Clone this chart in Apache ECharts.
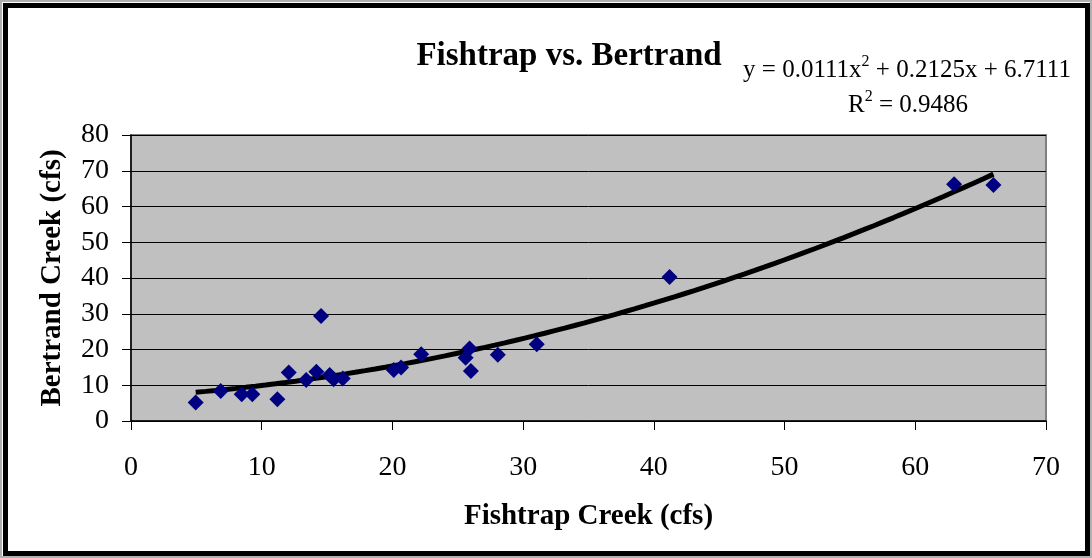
<!DOCTYPE html>
<html>
<head>
<meta charset="utf-8">
<script src="https://cdn.jsdelivr.net/npm/echarts@6/dist/echarts.min.js"></script>
<style>
  html, body { margin: 0; padding: 0; background: #fff; }
  #chart { width: 1092px; height: 558px; }
</style>
</head>
<body>
<div id="chart"></div>
<script>
// Daily flows: Fishtrap Creek (x) against Bertrand Creek (y), cfs
const fishtrap = [4.95, 6.86, 8.47, 9.28, 11.2, 12.07, 13.4, 14.18, 14.54, 15.2, 15.5, 16.2,
                  20.1, 20.66, 22.2, 25.6, 25.9, 26.0, 28.06, 31.04, 41.2, 62.97, 65.98];
const bertrand = [5.2, 8.4, 7.5, 7.5, 6.1, 13.6, 11.5, 13.8, 29.4, 12.9, 11.7, 11.9,
                  14.3, 15.0, 18.7, 17.7, 20.3, 14.0, 18.5, 21.5, 40.3, 66.2, 66.0];

// Polynomial trendline coefficients (y = a·x² + b·x + c) and R²
const trendA = 0.0111, trendB = 0.2125, trendC = 6.7111;
const rSquared = 0.9486;

const xTicks = [0, 10, 20, 30, 40, 50, 60, 70];
const yTicks = [0, 10, 20, 30, 40, 50, 60, 70, 80];

const points = fishtrap.map((x, i) => [x, bertrand[i]]);

// Trendline sampled across the observed x range
const xMin = Math.min(...fishtrap), xMax = Math.max(...fishtrap);
const trend = [];
for (let k = 0; k <= 80; k++) {
  const x = xMin + (xMax - xMin) * k / 80;
  trend.push([x, trendA * x * x + trendB * x + trendC]);
}

const serif = '"Liberation Serif", "DejaVu Serif", serif';
const eqRich = {
  n: { fontFamily: serif, fontSize: 25, color: '#000', lineHeight: 30, verticalAlign: 'bottom' },
  s: { fontFamily: serif, fontSize: 16, color: '#000', lineHeight: 30, verticalAlign: 'top', padding: [1, 0, 0, 0] }
};

const chart = echarts.init(document.getElementById('chart'));
chart.setOption({
  animation: false,
  backgroundColor: '#ffffff',
  title: {
    text: 'Fishtrap vs. Bertrand',
    left: 564, top: 35, textAlign: 'center',
    textStyle: { fontFamily: serif, fontSize: 33, fontWeight: 'bold', color: '#000' }
  },
  graphic: [
    {
      // thin grey edge round the chart frame
      type: 'rect', silent: true,
      shape: { x: 1, y: 1, width: 1090, height: 556 },
      style: { fill: 'none', stroke: '#b0b0b0', lineWidth: 2 }
    },
    {
      type: 'rect', silent: true,
      shape: { x: 5.5, y: 5.5, width: 1082, height: 548 },
      style: { fill: 'none', stroke: '#000', lineWidth: 5 }
    },
    {
      type: 'text', x: 907, y: 53, silent: true,
      style: {
        text: '{n|y = ' + trendA.toFixed(4) + 'x}{s|2}{n| + ' + trendB.toFixed(4) + 'x + ' + trendC.toFixed(4) + '}',
        rich: eqRich, align: 'center', verticalAlign: 'top'
      }
    },
    {
      type: 'text', x: 908, y: 88, silent: true,
      style: {
        text: '{n|R}{s|2}{n| = ' + rSquared.toFixed(4) + '}',
        rich: eqRich, align: 'center', verticalAlign: 'top'
      }
    }
  ],
  grid: {
    left: 131, right: 46, top: 135, bottom: 137,
    show: true, backgroundColor: '#C0C0C0', borderColor: '#808080', borderWidth: 2
  },
  xAxis: {
    type: 'value', min: xTicks[0], max: xTicks[xTicks.length - 1], interval: 10,
    name: 'Fishtrap Creek (cfs)', nameLocation: 'middle', nameGap: 81,
    nameTextStyle: { fontFamily: serif, fontSize: 29, fontWeight: 'bold', color: '#000' },
    axisLine: { onZero: false, lineStyle: { color: '#000', width: 1.5 } },
    axisTick: { show: true, length: 9, inside: false, lineStyle: { color: '#000' } },
    axisLabel: { fontFamily: serif, fontSize: 28, color: '#000', margin: 33 },
    splitLine: { show: false }
  },
  yAxis: {
    type: 'value', min: yTicks[0], max: yTicks[yTicks.length - 1], interval: 10,
    name: 'Bertrand Creek (cfs)', nameLocation: 'middle', nameGap: 64, nameRotate: 90,
    nameTextStyle: { fontFamily: serif, fontSize: 29, fontWeight: 'bold', color: '#000' },
    axisLine: { onZero: false, lineStyle: { color: '#000', width: 1.5 } },
    axisTick: { show: true, length: 9, inside: false, lineStyle: { color: '#000' } },
    axisLabel: { fontFamily: serif, fontSize: 28, color: '#000', margin: 22 },
    splitLine: { show: true, lineStyle: { color: '#000', width: 1 } }
  },
  series: [
    {
      type: 'line', data: trend, showSymbol: false, symbol: 'none', smooth: false,
      lineStyle: { color: '#000', width: 5 }, z: 2
    },
    {
      type: 'scatter', data: points, symbol: 'diamond', symbolSize: 16,
      itemStyle: { color: '#000080', opacity: 1 }, z: 3
    }
  ]
});
</script>
</body>
</html>
